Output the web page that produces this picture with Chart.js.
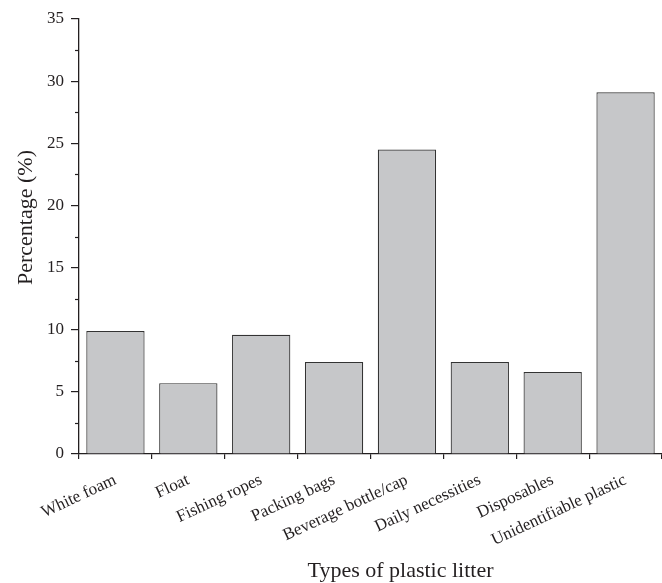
<!DOCTYPE html>
<html>
<head>
<meta charset="utf-8">
<script src="https://cdn.jsdelivr.net/npm/chart.js@4"></script>
<style>
    html, body { margin: 0; padding: 0; background: #fff; }
    #wrap { position: relative; width: 662px; height: 583px; }
</style>
</head>
<body>
<div id="wrap"><canvas id="litterChart"></canvas></div>
<script>
// Plastic litter composition
const categories = ['White foam', 'Float', 'Fishing ropes', 'Packing bags',
    'Beverage bottle/cap', 'Daily necessities', 'Disposables', 'Unidentifiable plastic'];
const percentages = [9.9, 5.7, 9.6, 7.4, 24.5, 7.4, 6.6, 29.1];
const yMajorTicks = [0, 5, 10, 15, 20, 25, 30, 35];
const yMinorTicks = [2.5, 7.5, 12.5, 17.5, 22.5, 27.5, 32.5];
const xTitle = 'Types of plastic litter';
const yTitle = 'Percentage (%)';

const inkColor = '#231f20';
const serif = "'Liberation Serif', 'Times New Roman', serif";

// Minor ticks on the y axis plus the two axis titles
const extrasPlugin = {
    id: 'extras',
    afterDraw(chart) {
        const ctx = chart.ctx;
        const y = chart.scales.y;
        const area = chart.chartArea;
        ctx.save();
        ctx.strokeStyle = inkColor;
        ctx.lineWidth = 1.2;
        yMinorTicks.forEach(v => {
            const py = Math.round(y.getPixelForValue(v)) + 0.5;
            ctx.beginPath();
            ctx.moveTo(area.left - 4, py);
            ctx.lineTo(area.left, py);
            ctx.stroke();
        });

        ctx.fillStyle = inkColor;
        ctx.font = '22px ' + serif;
        ctx.textAlign = 'center';
        ctx.textBaseline = 'alphabetic';
        ctx.fillText(xTitle, (area.left + area.right) / 2 + 30, 577);

        ctx.translate(32, (area.top + area.bottom) / 2 - 19);
        ctx.rotate(-Math.PI / 2);
        ctx.fillText(yTitle, 0, 0);
        ctx.restore();
    }
};

function initializeLitterChart() {
    const ctx = document.getElementById('litterChart');
    if (!ctx) return;

    new Chart(ctx, {
        type: 'bar',
        data: {
            labels: categories,
            datasets: [{
                data: percentages,
                backgroundColor: '#c6c7c9',
                borderColor: '#333333',
                borderWidth: 1.2,
                barPercentage: 0.8,
                categoryPercentage: 1.0
            }]
        },
        options: {
            responsive: true,
            maintainAspectRatio: false,
            animation: false,
            layout: { padding: { top: 19, right: 0, bottom: 0, left: 0 } },
            plugins: {
                legend: { display: false },
                tooltip: { enabled: false }
            },
            scales: {
                x: {
                    offset: true,
                    grid: {
                        display: true,
                        offset: true,
                        drawOnChartArea: false,
                        drawTicks: true,
                        tickLength: 5,
                        color: inkColor,
                        lineWidth: 1.2
                    },
                    border: { display: true, color: inkColor, width: 1.3 },
                    ticks: {
                        autoSkip: false,
                        minRotation: 25,
                        maxRotation: 25,
                        padding: 11,
                        color: inkColor,
                        font: { family: serif, size: 17 }
                    },
                    afterFit: scale => { scale.height = 129; }
                },
                y: {
                    min: 0,
                    max: 35,
                    afterBuildTicks: scale => {
                        scale.ticks = yMajorTicks.map(v => ({ value: v }));
                    },
                    grid: {
                        display: true,
                        drawOnChartArea: false,
                        drawTicks: true,
                        tickLength: 8,
                        color: inkColor,
                        lineWidth: 1.2
                    },
                    border: { display: true, color: inkColor, width: 1.3 },
                    ticks: {
                        padding: 7,
                        color: inkColor,
                        font: { family: serif, size: 17 }
                    },
                    afterFit: scale => { scale.width = 79; }
                }
            }
        },
        plugins: [extrasPlugin]
    });
}

initializeLitterChart();
</script>
</body>
</html>
